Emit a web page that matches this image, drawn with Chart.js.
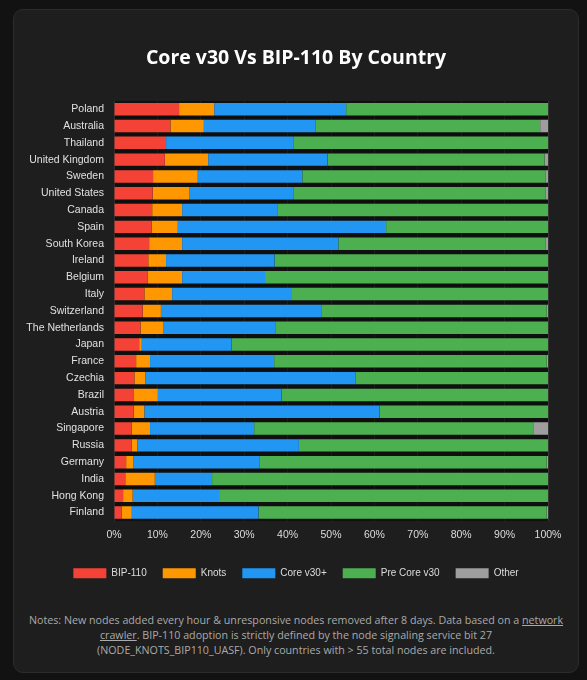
<!DOCTYPE html>
<html><head><meta charset="utf-8">
<script src="https://cdn.jsdelivr.net/npm/chart.js@4.4.1/dist/chart.umd.min.js"></script>
<style>
html,body{margin:0;padding:0;background:#121212;width:587px;height:680px;overflow:hidden;}
.card{position:absolute;left:13px;top:9px;width:564px;height:662px;background:#1e1e1e;border:1px solid #2c2c2c;border-radius:10px;}
.chartbox{position:absolute;left:0;top:0;width:564px;height:585px;}
.notes{position:absolute;left:0;top:603px;width:564px;text-align:center;font-family:"Open Sans",sans-serif;font-size:10.7px;line-height:15px;color:#aaaaaa;white-space:nowrap;}
.notes a{color:#aaaaaa;text-decoration:underline;}
</style></head>
<body>
<div class="card">
  <div class="chartbox"><canvas id="c"></canvas></div>
  <div class="notes">Notes: New nodes added every hour &amp; unresponsive nodes removed after 8 days. Data based on a <a>network</a><br><a>crawler</a>. BIP-110 adoption is strictly defined by the node signaling service bit 27<br>(NODE_KNOTS_BIP110_UASF). Only countries with &gt; 55 total nodes are included.</div>
</div>
<script>
const countries = ["Poland","Australia","Thailand","United Kingdom","Sweden","United States","Canada","Spain","South Korea","Ireland","Belgium","Italy","Switzerland","The Netherlands","Japan","France","Czechia","Brazil","Austria","Singapore","Russia","Germany","India","Hong Kong","Finland"];
const bip110  = [15.0,13.0,12.0,11.7, 9.0, 8.9, 8.8, 8.7, 8.1, 7.9, 7.8, 7.0, 6.6, 6.1, 5.8, 5.1, 4.7, 4.6, 4.5, 4.1, 4.1, 2.8, 2.6, 2.1, 1.8];
const knots   = [ 8.1, 7.7, 0.0,10.0,10.3, 8.4, 6.9, 6.0, 7.6, 4.1, 7.9, 6.4, 4.2, 5.2, 0.6, 3.2, 2.5, 5.5, 2.5, 4.2, 1.3, 1.6, 6.8, 2.2, 2.3];
const coreV30 = [30.4,25.8,29.3,27.5,24.1,24.0,21.9,48.0,36.0,25.0,19.1,27.4,37.1,26.0,20.7,28.6,48.4,28.5,54.2,24.0,37.2,29.2,13.2,19.9,29.2];
const preCore = [46.5,51.7,58.7,50.0,56.1,58.2,62.4,37.3,47.8,63.0,65.2,59.2,51.8,62.7,72.9,62.8,44.4,61.4,38.8,64.3,57.4,66.1,77.4,75.8,66.4];
const other   = [ 0.0, 1.8, 0.0, 0.8, 0.5, 0.5, 0.0, 0.0, 0.5, 0.0, 0.0, 0.0, 0.3, 0.0, 0.0, 0.3, 0.0, 0.0, 0.0, 3.4, 0.0, 0.3, 0.0, 0.0, 0.3];
const seriesNames = ["BIP-110","Knots","Core v30+","Pre Core v30","Other"];
const seriesColors = ["#f44336","#ff9800","#2196f3","#4caf50","#9e9e9e"];
const xTickLabels = ["0%","10%","20%","30%","40%","50%","60%","70%","80%","90%","100%"];

const seriesData = [bip110, knots, coreV30, preCore, other];
const datasets = seriesNames.map((name, i) => ({
  label: name,
  data: seriesData[i],
  backgroundColor: seriesColors[i],
  borderColor: "rgba(0,0,0,0.45)",
  borderWidth: {top: 2.5, bottom: 2.5, left: 0, right: 0},
  borderSkipped: false,
  categoryPercentage: 1.0,
  barPercentage: 1.0
}));

new Chart(document.getElementById("c"), {
  type: "bar",
  data: {labels: countries, datasets},
  options: {
    indexAxis: "y",
    responsive: true,
    maintainAspectRatio: false,
    animation: false,
    layout: {padding: {left: 0, right: 0, top: 0, bottom: 6.8}},
    scales: {
      x: {
        stacked: true, min: 0, max: 100,
        ticks: {stepSize: 10, color: "#dddddd", padding: 8, font: {size: 10.5},
          callback: (v, i) => xTickLabels[i]},
        grid: {color: "#363636", drawTicks: false},
        border: {display: false},
        afterFit: (s) => { s.height += 2.6; }
      },
      y: {
        stacked: true,
        ticks: {color: "#e0e0e0", padding: 10, font: {size: 10.5}, autoSkip: false},
        grid: {display: false, drawTicks: false},
        border: {display: false},
        afterFit: (s) => { s.width = 100; }
      },
      yRightSpace: {
        type: "category", position: "right", labels: countries,
        ticks: {display: false},
        grid: {display: false, drawTicks: false},
        border: {display: false},
        afterFit: (s) => { s.width = 30; }
      }
    },
    plugins: {
      title: {display: true, text: "Core v30 Vs BIP-110 By Country", color: "#ffffff",
        font: {family: "'Open Sans', sans-serif", size: 19.5, weight: "bold", lineHeight: 1.2},
        padding: {top: 37, bottom: 30.4}},
      legend: {position: "bottom",
        labels: {color: "#dddddd", boxWidth: 33, boxHeight: 10, padding: 16, font: {size: 10}, 
          generateLabels: (chart) => Chart.defaults.plugins.legend.labels.generateLabels(chart).map(l => Object.assign(l, {lineWidth: 0, strokeStyle: "rgba(0,0,0,0)"}))}},
      tooltip: {enabled: false}
    }
  }
});
</script>
</body></html>
